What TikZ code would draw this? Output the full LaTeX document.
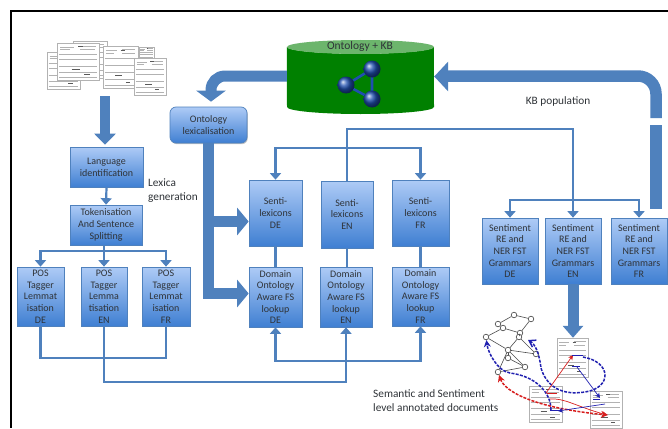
\documentclass[tikz,border=0pt]{standalone}
\usepackage{fontspec}
\setmainfont{Carlito}
\usetikzlibrary{arrows.meta,shadows,calc}
\definecolor{flow}{HTML}{4F81BD}
\definecolor{ink}{HTML}{2F3338}
\definecolor{boxtop}{HTML}{AECBF6}
\definecolor{boxbot}{HTML}{3F7FD2}
\definecolor{kbgreen}{HTML}{008000}
\definecolor{kbtop}{HTML}{6CB56C}
\definecolor{ballblue}{HTML}{1F4FB0}
\definecolor{netblue}{HTML}{2020B0}
\definecolor{netred}{HTML}{D81E1E}
\tikzset{
  x=1pt,y=-1pt,
  procbox/.style={draw=flow,line width=.7pt,top color=boxtop,bottom color=boxbot,
    text=ink,align=center,inner sep=0pt,font=\fontsize{10}{11.7}\selectfont,
    general shadow={fill=gray,opacity=.45,shadow xshift=.8pt,shadow yshift=-1.2pt}},
  plainlabel/.style={text=ink,align=left,inner sep=0pt,font=\fontsize{11.3}{14}\selectfont},
  thin flow/.style={draw=flow,line width=2.2pt},
  thin arrow/.style={thin flow,-{Triangle[length=6.5pt,width=11pt]}},
  big arrow/.style={draw=flow,line width=11pt,rounded corners=#1,
    -{Triangle[length=11.5pt,width=27pt]}},
  big arrow/.default=0pt,
  big band/.style={draw=flow,line width=11.5pt,rounded corners=#1},
  big band/.default=0pt,
  docbox/.style={draw=gray!60,line width=.4pt,fill=white,inner sep=0pt},
  netnode/.style={circle,draw=black!75,fill=white,line width=.6pt,inner sep=0pt,minimum size=5.6pt},
  netedge/.style={draw=black!70,line width=.6pt},
  ball/.style={circle,inner sep=0pt,minimum size=17pt,shading=ball,ball color=ballblue},
  blue dash/.style={draw=netblue,line width=1.5pt,dash pattern=on 3pt off 1.3pt},
  red dash/.style={draw=netred,line width=1.5pt,dash pattern=on 3pt off 1.3pt},
}
% thumbnail of a document: name, left, top, width, height
\newcommand{\docthumb}[5]{%
  \node[docbox,minimum width=#4pt,minimum height=#5pt] (#1) at (#2+#4/2,#3+#5/2) {};
  \begin{scope}[shift={(#2,#3)},x=#4pt,y=-#5pt,draw=black!30,line width=.4pt]
    \draw (.08,.1) -- (.4,.1) (.55,.08) -- (.92,.08) (.08,.18) -- (.3,.18) (.55,.18) -- (.9,.18);
    \draw (.05,.3) -- (.95,.3) (.05,.45) -- (.95,.45) (.05,.62) -- (.95,.62) (.05,.78) -- (.95,.78) (.05,.93) -- (.95,.93);
    \draw[black!65,line width=.7pt] (.5,.1) -- (.62,.1) (.35,.7) -- (.55,.7) (.65,.86) -- (.78,.86);
  \end{scope}}
\begin{document}
\begin{tikzpicture}
\useasboundingbox (0,0) rectangle (668,428);
\fill[white] (0,0) rectangle (668,428);
\draw[black,line width=2pt] (668,11.5) -- (10.5,11.5) -- (10.5,428);

% source documents
\docthumb{srcA}{47}{52}{33}{37}
\docthumb{srcC}{73}{41}{34}{37}
\docthumb{srcB}{57}{43}{42}{37}
\docthumb{srcD}{139}{47}{15}{17}
\docthumb{srcE}{103}{46}{35}{42}
\docthumb{srcF}{134}{58}{32}{37}

% knowledge base
\node[inner sep=0pt,minimum width=147pt,minimum height=74pt] (kb) at (360.5,77) {};
\fill[kbgreen] (kb.north west) ++(0,7) arc[start angle=180,end angle=360,x radius=73.5,y radius=-7] -- (434,107)
  arc[start angle=360,end angle=180,x radius=73.5,y radius=-7] -- cycle;
\fill[kbtop] (360.5,47) ellipse[x radius=73.5,y radius=7];
\node[text=ink,inner sep=0pt,font=\fontsize{11.5}{13}\selectfont] (kblabel) at (360,46) {Ontology + KB};
\coordinate (ringA) at (372,69);
\coordinate (ringB) at (346,85);
\coordinate (ringC) at (372,99);
\draw[ballblue,line width=2.6pt,line join=round,line cap=round] (ringA) -- (ringB) -- (ringC) -- (ringA);
\node[ball] (ballA) at (ringA) {};
\node[ball] (ballB) at (ringB) {};
\node[ball] (ballC) at (ringC) {};

% boxes
\node[procbox,minimum width=73pt,minimum height=40pt] (lang) at (106.5,167) {Language\\identification};
\node[procbox,minimum width=72pt,minimum height=40pt] (tok) at (106,225) {Tokenisation\\And Sentence\\Splitting};
\node[procbox,minimum width=47pt,minimum height=59pt] (posDE) at (40.5,296.5) {POS\\Tagger\\Lemmat\\isation\\DE};
\node[procbox,minimum width=46pt,minimum height=59pt] (posEN) at (104,296.5) {POS\\Tagger\\Lemma\\tisation\\EN};
\node[procbox,minimum width=48pt,minimum height=59pt] (posFR) at (166,296.5) {POS\\Tagger\\Lemmat\\isation\\FR};
\node[procbox,rounded corners=6pt,minimum width=77pt,minimum height=36pt] (lex) at (208.5,125) {Ontology\\lexicalisation};
\node[procbox,minimum width=53pt,minimum height=66pt] (sentiDE) at (275.5,213) {Senti-\\lexicons\\DE};
\node[procbox,minimum width=52pt,minimum height=67pt] (sentiEN) at (347,214.5) {Senti-\\lexicons\\EN};
\node[procbox,minimum width=57pt,minimum height=66pt] (sentiFR) at (420.5,213) {Senti-\\lexicons\\FR};
\node[procbox,minimum width=53pt,minimum height=60pt] (domDE) at (275.5,297) {Domain\\Ontology\\Aware FS\\lookup\\DE};
\node[procbox,minimum width=52pt,minimum height=60pt] (domEN) at (346,297) {Domain\\Ontology\\Aware FS\\lookup\\EN};
\node[procbox,minimum width=57pt,minimum height=59pt] (domFR) at (420.5,296.5) {Domain\\Ontology\\Aware FS\\lookup\\FR};
\node[procbox,minimum width=56pt,minimum height=66pt] (gramDE) at (510,251) {Sentiment\\RE and\\NER FST\\Grammars\\DE};
\node[procbox,minimum width=56pt,minimum height=66pt] (gramEN) at (573,251) {Sentiment\\RE and\\NER FST\\Grammars\\EN};
\node[procbox,minimum width=56pt,minimum height=66pt] (gramFR) at (639,251) {Sentiment\\RE and\\NER FST\\Grammars\\FR};

% labels
\node[plainlabel,anchor=north west] (lexica) at (148,179) {Lexica\\generation};
\node[plainlabel] (kbpop) at (558,101) {KB population};
\node[plainlabel,anchor=north west] (semlab) at (373,389) {Semantic and Sentiment\\level annotated documents};

% annotated documents
\docthumb{docT}{557}{338}{31}{39}
\docthumb{docL}{529}{386}{33}{36}
\docthumb{docR}{590}{391}{32}{37}

% big arrows
\draw[big arrow=14pt,shorten >=5pt,-{Triangle[length=11pt,width=29pt]}] (kb.west|-0,76) -- (211,76) -- (lex.north-|211,0);
\coordinate (kbbreak) at (656,118);
\coordinate (kbresume) at (656,125);
\coordinate (kbfoot) at (656,209);
\draw[big band=18pt] (kbbreak) -- (656,76) -- (448,76);
\draw[big arrow,-{Triangle[length=14pt,width=29pt]}] (450,76.5) -- (kb.east|-0,76.5);
\draw[big band] (kbresume) -- (kbfoot);
\draw[big arrow,line width=10pt,-{Triangle[length=11pt,width=21pt]},shorten >=2pt] (105,96) -- (lang.north-|105,0);
\draw[big arrow] (lex.south) |- ([yshift=3.5pt]domDE.west);
\draw[big arrow] (lex.south|-0,221.5) -- (sentiDE.west|-0,221.5);
\draw[big arrow,-{Triangle[length=12pt,width=20pt]}] (gramEN.south) -- (docT.north-|gramEN.south);

% thin connectors
\draw[thin arrow] (lang.south) -- (tok.north);
\coordinate (tokbus) at (104,251);
\draw[thin flow] (tok.south-|tokbus) -- (tokbus);
\draw[thin arrow] (tokbus) -- (posEN.north);
\draw[thin arrow] (tokbus) -| (posDE.north);
\draw[thin arrow] (tokbus) -| (posFR.north);
\draw[thin flow] (posDE.south) |- (166,358) -- (posFR.south);
\draw[thin arrow] (posEN.south) |- (346,382) -- (domEN.south);
\coordinate (dombus) at (346,361);
\draw[thin arrow] (dombus) -| (domDE.south);
\draw[thin arrow] (dombus) -| (domFR.south);
\draw[thin flow] (sentiDE.south) -- (domDE.north);
\draw[thin flow] (sentiEN.south) -- (sentiEN.south|-domEN.north);
\draw[thin flow] (sentiFR.south) -- (domFR.north);
\coordinate (sentibus) at (347,148);
\draw[thin arrow] (sentibus) -| (sentiDE.north);
\draw[thin arrow] (sentibus) -| (sentiFR.north);
\draw[thin arrow] (sentiEN.north) |- (573,129) -- (gramEN.north);
\coordinate (grambus) at (573,200);
\draw[thin arrow] (grambus) -| (gramDE.north);
\draw[thin arrow] (grambus) -| (gramFR.north);

% network
\foreach \nm/\px/\py in {n1/514/315,n2/531/319,n3/498/324,n4/503/328,n5/520/333,n6/486/337,n7/519/337,n8/508/350,n9/536/354,n10/508/358,n11/525/367,n12/498/372}
  \node[netnode] (\nm) at (\px,\py) {};
\foreach \a/\b in {n1/n2,n1/n3,n2/n5,n3/n4,n4/n5,n4/n6,n5/n7,n6/n8,n7/n8,n8/n9,n7/n9,n8/n10,n8/n11,n8/n12,n12/n11,n10/n11}
  \path[netedge] (\a) -- (\b);
\draw[blue dash,-{Stealth[length=7pt,width=7pt]}] (551,410) .. controls (551,392) and (535,376) .. (510,373) .. controls (497,371) and (488,352) .. (n6);
\draw[blue dash,-{Straight Barb[length=6pt,width=8pt]}] (583,357) .. controls (612,362) and (612,388) .. (585,392) .. controls (560,396) and (546,385) .. (541,368) .. controls (539,352) and (535,344) .. (528,340);
\draw[red dash,{Stealth[length=7pt,width=7pt]}-{Stealth[length=7pt,width=7pt]}] (n12) .. controls (505,392) and (535,408) .. (608,415);
\draw[netred,line width=.7pt,-{Stealth[length=5pt,width=5pt]}] (546,393) -- (573,355);
\draw[netred,line width=.9pt] (547,393) -- (557,393);
\draw[netred,line width=.7pt,-{Stealth[length=5pt,width=5pt]}] (550,399) .. controls (565,398) and (575,406) .. (607,415);
\draw[netblue,line width=.9pt] (572,355) -- (583,355) (572,366) -- (580,366) (593,399) -- (600,399) (550,410) -- (560,410);
\draw[netblue,line width=.7pt,-{Stealth[length=5pt,width=5pt]}] (577,367) -- (600,398);
\draw[netblue,line width=.7pt,-{Stealth[length=5pt,width=5pt]}] (605,404) -- (558,411);
\end{tikzpicture}
\end{document}
